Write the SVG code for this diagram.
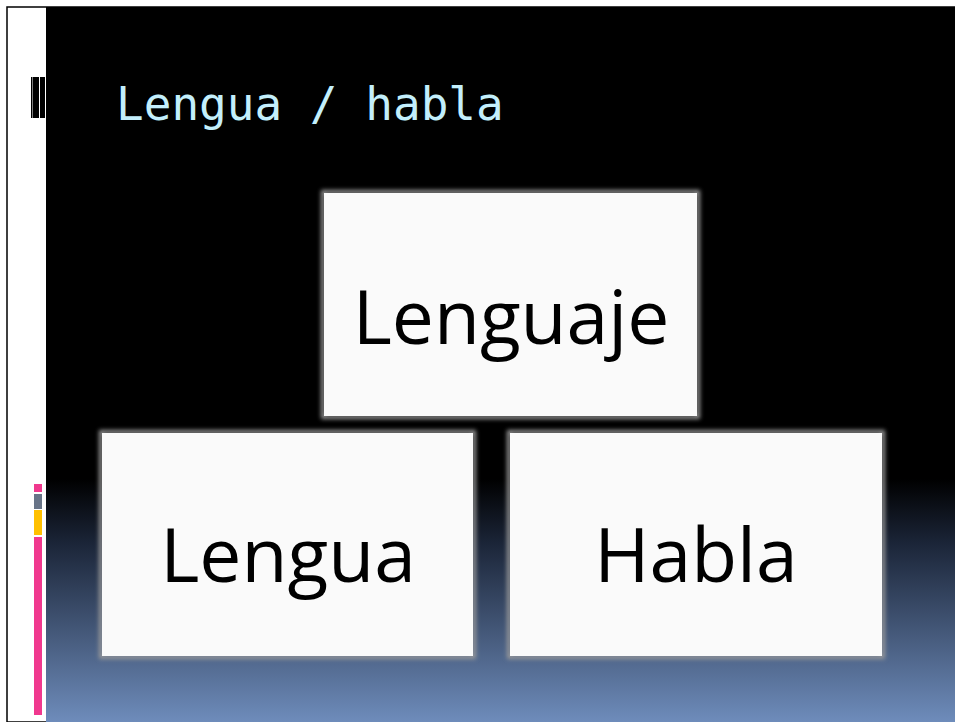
<svg xmlns="http://www.w3.org/2000/svg" width="955" height="722" viewBox="0 0 955 722">
<defs>
<linearGradient id="bg" x1="0" y1="7" x2="0" y2="722" gradientUnits="userSpaceOnUse">
<stop offset="0" stop-color="#000"/>
<stop offset="0.66" stop-color="#000"/>
<stop offset="0.75" stop-color="#1b2538"/>
<stop offset="1" stop-color="#6e8cbb"/>
</linearGradient>
<filter id="glow" x="-5%" y="-5%" width="110%" height="110%">
<feGaussianBlur stdDeviation="2"/>
</filter>
<style>
.box{fill:#fafafa}
.edge{fill:none;stroke:#9a9a9a;stroke-width:4}
.lbl{font-family:"Open Sans","Noto Sans","Liberation Sans",sans-serif;font-size:75px;fill:#000;text-anchor:middle}
.title{font-family:"DejaVu Sans Mono","Liberation Mono",monospace;font-size:46px;fill:#c3effc}
</style>
</defs>
<rect x="0" y="0" width="955" height="722" fill="#fff"/>
<rect x="7" y="7" width="948" height="715" fill="none" stroke="#000" stroke-width="1.5"/>
<rect x="46" y="7" width="909" height="715" fill="url(#bg)"/>
<g id="deco">
<rect x="31" y="77" width="1.5" height="41" fill="#000"/>
<rect x="33" y="77" width="6" height="41" fill="#000"/>
<rect x="40" y="77" width="5" height="41" fill="#000"/>
<rect x="34" y="484" width="8" height="8" fill="#f0388e"/>
<rect x="34" y="494" width="8" height="15" fill="#687488"/>
<rect x="34" y="510" width="8" height="25" fill="#ffc000"/>
<rect x="34" y="537" width="8" height="178" fill="#f0388e"/>
</g>
<text class="title" x="116" y="120">Lengua / habla</text>
<g id="connectors"/>
<g id="lenguaje">
<rect class="edge" x="323" y="192" width="375" height="225" filter="url(#glow)"/>
<rect class="box" x="324" y="193" width="373" height="223"/>
<text class="lbl" x="511" y="344">Lenguaje</text>
</g>
<g id="lengua">
<rect class="edge" x="101" y="432" width="373" height="225" filter="url(#glow)"/>
<rect class="box" x="102" y="433" width="371" height="223"/>
<text class="lbl" x="288" y="582">Lengua</text>
</g>
<g id="habla">
<rect class="edge" x="509" y="432" width="374" height="225" filter="url(#glow)"/>
<rect class="box" x="510" y="433" width="372" height="223"/>
<text class="lbl" x="696" y="582">Habla</text>
</g>
</svg>
